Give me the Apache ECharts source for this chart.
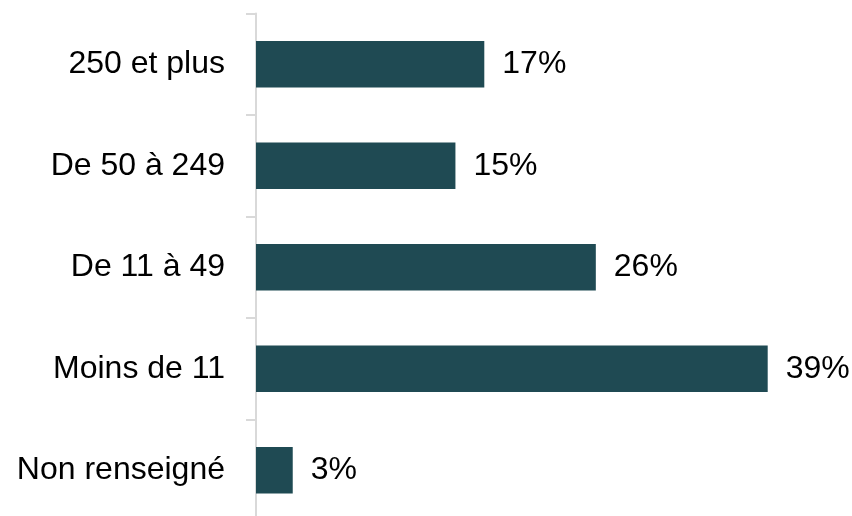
<!DOCTYPE html>
<html><head><meta charset="utf-8">
<script src="https://cdn.jsdelivr.net/npm/echarts@6/dist/echarts.min.js"></script>
<style>html,body{margin:0;padding:0;background:#fff}#c{width:852px;height:516px}</style>
</head><body><div id="c"></div>
<script>
const categories = ["250 et plus", "De 50 à 249", "De 11 à 49", "Moins de 11", "Non renseigné"];
const values = [17.4, 15.2, 25.9, 39.0, 2.8];

const chart = echarts.init(document.getElementById('c'), null, {renderer: 'canvas'});
const font = 'Liberation Sans, Arial, sans-serif';
chart.setOption({
  animation: false,
  grid: {left: 256, right: 84.3, top: 13.5, height: 507.5, containLabel: false, outerBoundsMode: 'none'},
  xAxis: {type: 'value', min: 0, max: Math.max(...values), show: false},
  yAxis: {
    type: 'category', data: categories, inverse: true, offset: 2,
    axisLine: {show: true, lineStyle: {color: '#d9d9d9', width: 2}},
    axisTick: {show: true, length: 10, lineStyle: {color: '#d9d9d9', width: 2}},
    axisLabel: {margin: 29, color: '#000', fontSize: 32, fontFamily: font},
    splitLine: {show: false}
  },
  series: [{
    type: 'bar', data: values, barWidth: '46%',
    itemStyle: {color: '#1F4A53'},
    label: {show: true, position: 'right', distance: 18, color: '#000', fontSize: 32, fontFamily: font,
      formatter: p => Math.round(p.value) + '%'}
  }]
});
</script></body></html>
